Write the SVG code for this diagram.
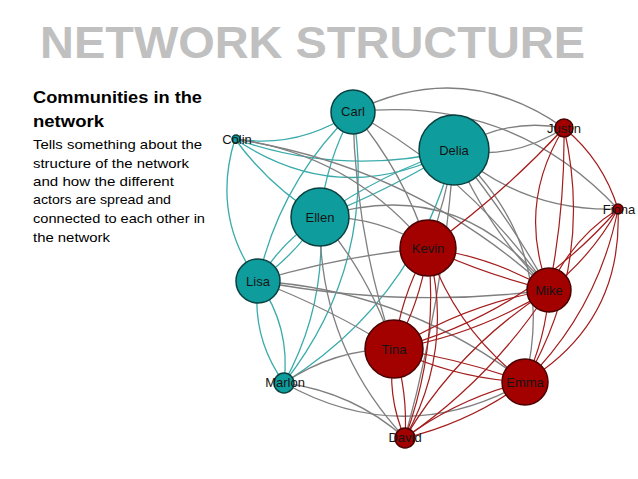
<svg xmlns="http://www.w3.org/2000/svg" width="638" height="479" viewBox="0 0 638 479">
<style>
.t{fill:none;stroke:#3aabab;stroke-width:1.3}
.g{fill:none;stroke:#7f7f7f;stroke-width:1.3}
.r{fill:none;stroke:#a41c1c;stroke-width:1.2}
.nt{fill:#0f9c9c;stroke:#0a4040;stroke-width:1.5}
.nr{fill:#a30000;stroke:#4a0000;stroke-width:1.5}
.lb{font-family:"Liberation Sans",Arial,sans-serif;font-size:13px;fill:#141414;text-anchor:middle}
.body{font-family:"Liberation Sans",Arial,sans-serif;font-size:13.5px;fill:#000}
.head{font-family:"Liberation Sans",Arial,sans-serif;font-size:16.5px;font-weight:bold;fill:#000}
</style>
<rect width="638" height="479" fill="#ffffff"/>
<text x="40" y="58" font-family="Liberation Sans,Arial,sans-serif" font-size="44" font-weight="bold" fill="#c0c0c0" textLength="545" lengthAdjust="spacingAndGlyphs">NETWORK STRUCTURE</text>
<g id="caption">
<text class="head" x="33" y="103" textLength="169" lengthAdjust="spacingAndGlyphs">Communities in the</text>
<text class="head" x="33" y="127" textLength="71" lengthAdjust="spacingAndGlyphs">network</text>
<text class="body" x="33" y="149" textLength="169" lengthAdjust="spacingAndGlyphs">Tells something  about the</text>
<text class="body" x="33" y="168" textLength="156" lengthAdjust="spacingAndGlyphs">structure of the network</text>
<text class="body" x="33" y="186" textLength="141" lengthAdjust="spacingAndGlyphs">and how the different</text>
<text class="body" x="33" y="204" textLength="138" lengthAdjust="spacingAndGlyphs">actors are spread and</text>
<text class="body" x="33" y="223" textLength="172" lengthAdjust="spacingAndGlyphs">connected to each other in</text>
<text class="body" x="33" y="242" textLength="77" lengthAdjust="spacingAndGlyphs">the network</text>
</g>
<g id="connectors">
<path class="t" d="M353,112 Q299,149 235,139"/>
<path class="t" d="M454,150 Q343,177 235,139"/>
<path class="t" d="M454,150 Q341,210 235,139"/>
<path class="t" d="M320,217 Q270,187 235,139"/>
<path class="t" d="M258,281 Q211,216 235,139"/>
<path class="t" d="M320,217 Q326,161 353,112"/>
<path class="t" d="M258,281 Q280,182 353,112"/>
<path class="t" d="M353,112 Q378,263 284,383"/>
<path class="t" d="M320,217 Q382,173 454,150"/>
<path class="t" d="M320,217 Q390,190 454,150"/>
<path class="t" d="M454,150 Q416,300 284,383"/>
<path class="t" d="M320,217 Q295,255 258,281"/>
<path class="t" d="M258,281 Q281,242 320,217"/>
<path class="t" d="M320,217 Q327,305 284,383"/>
<path class="t" d="M258,281 Q291,327 284,383"/>
<path class="t" d="M284,383 Q251,337 258,281"/>
<path class="g" d="M353,112 Q463,57 564,128"/>
<path class="g" d="M353,112 Q510,94 618,209"/>
<path class="g" d="M353,112 Q404,172 428,248"/>
<path class="g" d="M353,112 Q355,234 394,349"/>
<path class="g" d="M353,112 Q472,177 549,290"/>
<path class="g" d="M235,139 Q353,155 428,248"/>
<path class="g" d="M235,139 Q415,167 549,290"/>
<path class="g" d="M454,150 Q505,117 564,128"/>
<path class="g" d="M564,128 Q513,161 454,150"/>
<path class="g" d="M454,150 Q524,212 618,209"/>
<path class="g" d="M454,150 Q446,200 428,248"/>
<path class="g" d="M454,150 Q487,230 549,290"/>
<path class="g" d="M454,150 Q508,215 549,290"/>
<path class="g" d="M454,150 Q444,296 405,438"/>
<path class="g" d="M454,150 Q559,245 525,382"/>
<path class="g" d="M320,217 Q379,216 428,248"/>
<path class="g" d="M320,217 Q460,173 549,290"/>
<path class="g" d="M320,217 Q370,276 394,349"/>
<path class="g" d="M320,217 Q318,345 405,438"/>
<path class="g" d="M258,281 Q341,256 428,248"/>
<path class="g" d="M258,281 Q403,309 549,290"/>
<path class="g" d="M258,281 Q407,291 525,382"/>
<path class="g" d="M258,281 Q329,308 394,349"/>
<path class="g" d="M284,383 Q334,349 394,349"/>
<path class="g" d="M284,383 Q353,392 405,438"/>
<path class="g" d="M284,383 Q404,450 525,382"/>
<path class="r" d="M564,128 Q502,195 428,248"/>
<path class="r" d="M549,290 Q516,205 564,128"/>
<path class="r" d="M564,128 Q565,210 549,290"/>
<path class="r" d="M564,128 Q595,263 525,382"/>
<path class="r" d="M564,128 Q603,160 618,209"/>
<path class="r" d="M618,209 Q598,310 525,382"/>
<path class="r" d="M618,209 Q623,323 525,382"/>
<path class="r" d="M618,209 Q571,239 549,290"/>
<path class="r" d="M618,209 Q592,256 549,290"/>
<path class="r" d="M428,248 Q493,257 549,290"/>
<path class="r" d="M428,248 Q486,275 549,290"/>
<path class="r" d="M428,248 Q421,302 394,349"/>
<path class="r" d="M428,248 Q401,295 394,349"/>
<path class="r" d="M428,248 Q456,330 525,382"/>
<path class="r" d="M428,248 Q439,346 405,438"/>
<path class="r" d="M428,248 Q455,348 405,438"/>
<path class="r" d="M549,290 Q477,335 394,349"/>
<path class="r" d="M549,290 Q466,304 394,349"/>
<path class="r" d="M549,290 Q492,378 405,438"/>
<path class="r" d="M549,290 Q459,347 405,438"/>
<path class="r" d="M549,290 Q546,338 525,382"/>
<path class="r" d="M394,349 Q456,379 525,382"/>
<path class="r" d="M525,382 Q461,359 394,349"/>
<path class="r" d="M394,349 Q408,392 405,438"/>
<path class="r" d="M394,349 Q386,395 405,438"/>
<path class="r" d="M525,382 Q459,398 405,438"/>
<path class="r" d="M525,382 Q471,422 405,438"/>
<path class="r" d="M618,209 Q527,313 394,349"/>
</g>
<g id="carl"><circle class="nt" cx="353" cy="112" r="22"/><text class="lb" x="353" y="116">Carl</text></g>
<g id="colin"><circle class="nt" cx="236" cy="139" r="4"/><text class="lb" x="237" y="144">Colin</text></g>
<g id="delia"><circle class="nt" cx="454" cy="150" r="35"/><text class="lb" x="454" y="155">Delia</text></g>
<g id="justin"><circle class="nr" cx="564" cy="128" r="9"/><text class="lb" x="564" y="133">Justin</text></g>
<g id="fiona"><circle class="nr" cx="618" cy="209" r="5"/><text class="lb" x="619" y="214">Fiona</text></g>
<g id="ellen"><circle class="nt" cx="320" cy="217" r="29"/><text class="lb" x="320" y="222">Ellen</text></g>
<g id="kevin"><circle class="nr" cx="428" cy="248" r="28"/><text class="lb" x="428" y="253">Kevin</text></g>
<g id="mike"><circle class="nr" cx="549" cy="290" r="22"/><text class="lb" x="549" y="295">Mike</text></g>
<g id="lisa"><circle class="nt" cx="258" cy="281" r="22"/><text class="lb" x="258" y="286">Lisa</text></g>
<g id="tina"><circle class="nr" cx="394" cy="349" r="29"/><text class="lb" x="394" y="354">Tina</text></g>
<g id="emma"><circle class="nr" cx="525" cy="382" r="23"/><text class="lb" x="525" y="387" font-size="14">Emma</text></g>
<g id="marlon"><circle class="nt" cx="284" cy="383" r="10"/><text class="lb" x="285" y="387">Marlon</text></g>
<g id="david"><circle class="nr" cx="405" cy="438" r="10"/><text class="lb" x="405" y="442">David</text></g>
</svg>
